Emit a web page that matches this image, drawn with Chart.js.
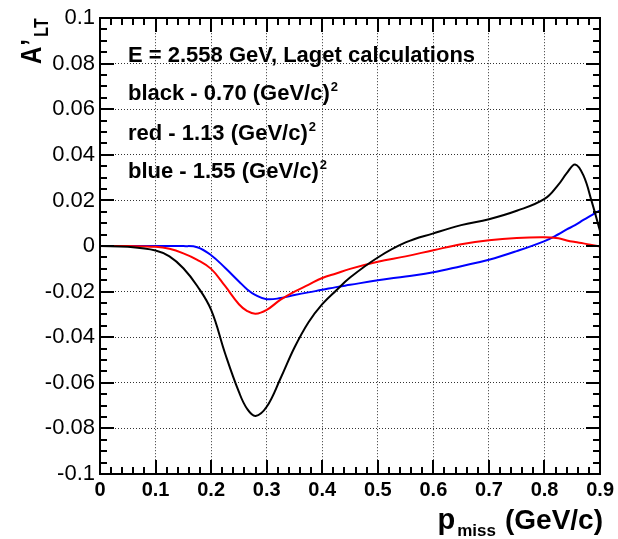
<!DOCTYPE html>
<html>
<head>
<meta charset="utf-8">
<script src="https://cdn.jsdelivr.net/npm/chart.js@4.4.0/dist/chart.umd.min.js"></script>
<style>
  html, body { margin: 0; padding: 0; background: #fff; }
</style>
</head>
<body>
<canvas id="altChart" width="618" height="539"></canvas>
<script>
// missing momentum (GeV/c) and A'_LT for the three Q^2 settings
const pMiss = [0, 0.05, 0.1, 0.125, 0.15, 0.175, 0.2, 0.225, 0.25, 0.265, 0.28, 0.3, 0.325, 0.35, 0.375,
  0.4, 0.425, 0.45, 0.5, 0.55, 0.6, 0.65, 0.7, 0.75, 0.8, 0.825, 0.84, 0.855, 0.87, 0.885, 0.9];
const altBlack = [0, -0.0003, -0.0019, -0.0045, -0.0097, -0.0175, -0.028, -0.047, -0.064, -0.0715, -0.0745,
  -0.0705, -0.058, -0.0445, -0.0335, -0.0255, -0.0195, -0.0138, -0.005, 0.0016, 0.0056, 0.0092, 0.0118,
  0.0155, 0.0207, 0.027, 0.032, 0.0358, 0.031, 0.0195, 0.0065];
const altRed = [0, 0, -0.0003, -0.0012, -0.0032, -0.006, -0.010, -0.0175, -0.0255, -0.0285, -0.0297,
  -0.028, -0.0235, -0.020, -0.017, -0.014, -0.012, -0.010, -0.0069, -0.0045, -0.0018, 0.0008, 0.0026,
  0.0036, 0.0039, 0.0034, 0.0025, 0.0018, 0.0012, 0.0005, -0.0002];
const altBlue = [0, 0, 0, 0, 0, -0.0005, -0.004, -0.0095, -0.0155, -0.019, -0.0215, -0.0233, -0.0228,
  -0.0215, -0.0203, -0.0192, -0.018, -0.017, -0.015, -0.0133, -0.0115, -0.0088, -0.006, -0.0022, 0.0022,
  0.0052, 0.0073, 0.0092, 0.0115, 0.0136, 0.0157];

const xRange = [0, 0.9];
const yRange = [-0.1, 0.1];

const noteTitle = 'E = 2.558 GeV, Laget calculations';
const noteLines = ['black - 0.70 (GeV/c)', 'red - 1.13 (GeV/c)', 'blue - 1.55 (GeV/c)'];

const FONT = '"Liberation Sans", Arial, Helvetica, sans-serif';

function series(values, color) {
  return {
    data: pMiss.map((p, i) => ({ x: p, y: values[i] })),
    borderColor: color,
    borderWidth: 2,
    pointRadius: 0,
    fill: false,
    tension: 0.4
  };
}

// frame with inward ticks, the notes and the two axis titles
const decorations = {
  id: 'decorations',
  afterDraw(chart) {
    const ctx = chart.ctx;
    const a = chart.chartArea;
    const left = Math.round(a.left), right = Math.round(a.right);
    const top = Math.round(a.top), bottom = Math.round(a.bottom);
    const xPix = v => Math.round(left + (v - xRange[0]) / (xRange[1] - xRange[0]) * (right - left));
    const yPix = v => Math.round(bottom - (v - yRange[0]) / (yRange[1] - yRange[0]) * (bottom - top));

    ctx.save();
    ctx.globalAlpha = 1;
    ctx.globalCompositeOperation = 'source-over';
    ctx.fillStyle = '#000000';
    // ticks every 0.02 on x (major every 0.1), every 0.005 on y (major every 0.02)
    for (let i = 0; i <= 45; i++) {
      const px = xPix(i * 0.02);
      const len = i % 5 === 0 ? 14 : 7;
      ctx.fillRect(px - 1, bottom - len, 2, len);
      ctx.fillRect(px - 1, top, 2, len);
    }
    for (let i = 0; i <= 40; i++) {
      const py = yPix(yRange[0] + i * 0.005);
      const len = i % 4 === 0 ? 14 : 7;
      ctx.fillRect(left, py - 1, len, 2);
      ctx.fillRect(right - len, py - 1, len, 2);
    }
    // frame
    ctx.fillRect(left - 1, top - 1, right - left + 2, 2);
    ctx.fillRect(left - 1, bottom - 1, right - left + 2, 2);
    ctx.fillRect(left - 1, top - 1, 2, bottom - top + 2);
    ctx.fillRect(right - 1, top - 1, 2, bottom - top + 2);

    ctx.textAlign = 'left';
    ctx.textBaseline = 'alphabetic';
    ctx.font = 'bold 22px ' + FONT;
    ctx.fillText(noteTitle, 128, 62);
    const baselines = [100, 140, 178];
    noteLines.forEach((txt, i) => {
      ctx.font = 'bold 22px ' + FONT;
      ctx.fillText(txt, 128, baselines[i]);
      const w = ctx.measureText(txt).width;
      ctx.font = 'bold 13px ' + FONT;
      ctx.fillText('2', 128 + w + 1, baselines[i] - 9);
    });

    // x title: p_miss (GeV/c)
    ctx.textAlign = 'right';
    ctx.font = 'bold 28px ' + FONT;
    ctx.fillText('(GeV/c)', 603, 529);
    let edge = 603 - ctx.measureText('(GeV/c)').width - 9;
    ctx.font = 'bold 17px ' + FONT;
    ctx.fillText('miss', edge, 536);
    edge -= ctx.measureText('miss').width + 2;
    ctx.font = 'bold 29px ' + FONT;
    ctx.fillText('p', edge, 529);

    // y title: A'_LT, rotated
    ctx.translate(41, 64);
    ctx.rotate(-Math.PI / 2);
    ctx.scale(1, 1.25);
    ctx.textAlign = 'left';
    ctx.font = 'bold 24px ' + FONT;
    ctx.fillText('A', 0, 0);
    const aw = ctx.measureText('A').width;
    ctx.fillText('\u2019', aw + 1, 0);
    ctx.font = 'bold 16px ' + FONT;
    ctx.fillText('LT', aw + 10, 5.5);
    ctx.restore();
  }
};

new Chart(document.getElementById('altChart'), {
  type: 'line',
  data: {
    datasets: [series(altBlack, '#000000'), series(altRed, '#ff0000'), series(altBlue, '#0000ff')]
  },
  options: {
    responsive: false,
    animation: false,
    devicePixelRatio: 1,
    layout: { padding: { left: 0, top: 17, right: 17, bottom: 0 } },
    plugins: { legend: { display: false }, tooltip: { enabled: false } },
    scales: {
      x: {
        type: 'linear',
        min: xRange[0],
        max: xRange[1],
        afterFit: s => { s.height = 65; },
        ticks: {
          stepSize: 0.1,
          autoSkip: false,
          maxRotation: 0,
          padding: 4,
          color: '#000',
          font: { family: FONT, size: 20, weight: 'bold' },
          callback: v => Number(v.toFixed(1)).toString()
        },
        grid: { color: '#333', lineWidth: 1, drawTicks: false },
        border: { display: false, dash: [1, 2] }
      },
      y: {
        type: 'linear',
        min: yRange[0],
        max: yRange[1],
        afterFit: s => { s.width = 100; },
        ticks: {
          stepSize: 0.02,
          autoSkip: false,
          padding: 5,
          color: '#000',
          font: { family: FONT, size: 22 },
          callback: v => Number(v.toFixed(2)).toString()
        },
        grid: { color: '#333', lineWidth: 1, drawTicks: false },
        border: { display: false, dash: [1, 2] }
      }
    }
  },
  plugins: [decorations]
});
</script>
</body>
</html>
